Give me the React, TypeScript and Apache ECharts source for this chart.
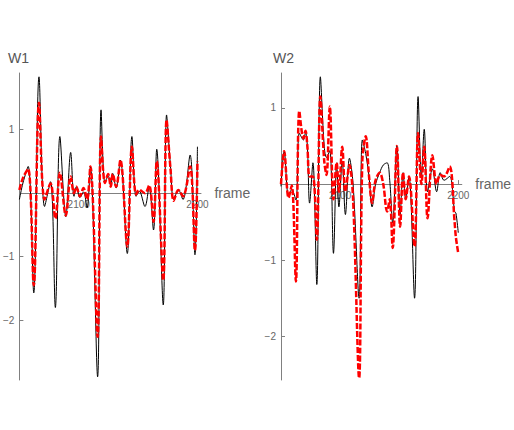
import React, { useEffect, useRef } from "react";
import * as echarts from "echarts";

const w1Frames = [2050, 2053, 2057.4, 2062.1, 2066.5, 2071.2, 2076.2, 2080.3, 2084.1, 2089.1, 2093.2, 2096, 2098, 2101, 2104, 2107, 2109.8, 2115.9, 2118.8, 2122.1, 2124.8, 2127, 2128.6, 2131.5, 2135.1, 2140.9, 2144.8, 2148.3, 2151, 2155.8, 2159.3, 2163, 2165.7, 2171.2, 2174, 2177.3, 2180, 2184, 2187.8, 2193.8, 2197.9, 2200];
const w1Black = [-0.1, 0.16, 0.42, -1.57, 1.83, -0.21, 0.18, -1.8, 0.89, -0.37, 0.64, -0.05, 0.1, -0.07, 0.02, -0.23, 0.42, -2.89, 1.31, 0.16, 0.27, 0.1, 0.31, 0.08, 0.52, -0.95, 0.89, -0.05, 0.03, -0.21, 0.1, -0.58, 0.69, -1.76, 1.23, 0.42, -0.1, 0.05, -0.1, 0.6, -0.97, 0.73];
const w1Red = [0.05, 0.24, 0.38, -1.45, 1.42, -0.1, 0.15, -0.4, 0.32, -0.35, 0.26, 0.0, 0.1, -0.05, 0.08, -0.1, 0.42, -2.26, 0.89, 0.16, 0.3, 0.1, 0.3, 0.1, 0.52, -0.84, 0.73, -0.02, 0.05, 0.0, 0.12, -0.45, 0.5, -1.37, 1.15, 0.38, -0.12, 0.05, -0.05, 0.42, -0.9, 0.5];

const w2Frames = [2050, 2052.7, 2056.4, 2059.1, 2062.6, 2065.5, 2069, 2070.7, 2072.3, 2074.2, 2077, 2080.3, 2083.3, 2086.6, 2088.5, 2091.3, 2094.4, 2097.1, 2099, 2101.8, 2104.5, 2107.9, 2111, 2116.1, 2118.8, 2121.7, 2124.5, 2127.1, 2130, 2133.5, 2136.5, 2139.8, 2142, 2144.5, 2148.1, 2150.8, 2153.3, 2155.5, 2158.3, 2163, 2166, 2168.8, 2171.2, 2174, 2178.1, 2181.7, 2184.7, 2188, 2192.7, 2196.9, 2198, 2200];
const w2Black = [-0.03, 0.43, -0.16, -0.07, -0.21, 0.67, 0.58, 0.68, 0.5, -0.25, 0.28, -1.32, 1.41, 0.49, 0.35, 0.44, -0.91, 0.28, -0.3, 0.3, -0.4, 0.34, 0.0, -1.5, 0.58, 0.4, 0.1, -0.3, 0.0, 0.15, 0.25, 0.28, 0.05, -0.51, 0.5, -0.4, 0.15, -0.2, 0.1, -1.5, 1.15, 0.1, 0.72, -0.1, 0.2, -0.1, 0.15, 0.05, 0.1, -0.36, -0.38, -0.64];
const w2Red = [0.0, 0.43, -0.18, -0.02, -1.28, 0.96, 0.6, 0.7, 0.5, 0.1, 0.1, -0.73, 1.15, 0.3, 0.12, 1.02, -0.2, 0.28, -0.1, 0.49, -0.1, 0.25, -0.2, -2.55, 0.3, 0.63, 0.1, -0.25, 0.05, 0.15, 0.0, -0.36, -0.2, -0.84, 0.5, -0.56, 0.15, -0.2, 0.1, -0.82, 0.67, 0.0, 0.49, -0.45, 0.38, 0.0, 0.12, 0.1, 0.23, -0.5, -0.7, -0.91];

const titles = ["W1", "W2"];
const xTicks = [2100, 2200];
const yTicks = [-2, -1, 1];
const xRange = [2050, 2203];
const yRanges = [[-2.94, 1.89], [-2.575, 1.46]];

const pairs = (xs: number[], ys: number[]) => xs.map((x, i) => [x, ys[i]]);

export default function App() {
  const ref = useRef<HTMLDivElement>(null);
  useEffect(() => {
    if (!ref.current) return;
    const chart = echarts.init(ref.current, null, { renderer: "svg" });
    const font = "Liberation Sans, Arial, sans-serif";
    const axisColor = "#808080";
    const labelColor = "#666";
    const lefts = [16, 281];
    const gridTop = 73;
    const gridH = 307;
    const xAxes = lefts.map((_, i) => {
      const [lo, hi] = yRanges[i];
      const zeroFromBottom = (gridH * (0 - lo)) / (hi - lo);
      return {
        type: "value",
        gridIndex: i,
        min: xRange[0],
        max: xRange[1],
        position: "bottom",
        offset: -zeroFromBottom,
        name: "frame",
        nameLocation: "end",
        nameGap: 5,
        nameTextStyle: { fontSize: 14, color: labelColor, fontFamily: font, verticalAlign: "middle" },
        axisLine: { onZero: false, lineStyle: { color: axisColor, width: 1 } },
        axisTick: { show: true, inside: true, length: 4, customValues: xTicks, lineStyle: { color: axisColor } },
        axisLabel: {
          show: true,
          customValues: xTicks,
          fontSize: 10,
          color: labelColor,
          fontFamily: font,
          margin: 6,
          formatter: (v: number) => String(v),
        },
        splitLine: { show: false },
      };
    });
    const yAxes = lefts.map((_, i) => ({
      type: "value",
      gridIndex: i,
      min: yRanges[i][0],
      max: yRanges[i][1],
      axisLine: { show: true, onZero: false, lineStyle: { color: axisColor, width: 1 } },
      axisTick: { show: true, inside: true, length: 4, customValues: yTicks, lineStyle: { color: axisColor } },
      axisLabel: {
        show: true,
        customValues: yTicks,
        fontSize: 10,
        color: labelColor,
        fontFamily: font,
        margin: 5,
        formatter: (v: number) => String(v).replace("-", "\u2212"),
      },
      splitLine: { show: false },
    }));
    const data = [
      [w1Frames, w1Black, w1Red],
      [w2Frames, w2Black, w2Red],
    ];
    const series: any[] = [];
    data.forEach(([fr, bl, rd], i) => {
      series.push({
        type: "line",
        xAxisIndex: i,
        yAxisIndex: i,
        data: pairs(fr, bl),
        smooth: 0.35,
        showSymbol: false,
        lineStyle: { color: "#000", width: 1 },
        z: 2,
      });
      series.push({
        type: "line",
        xAxisIndex: i,
        yAxisIndex: i,
        data: pairs(fr, rd),
        smooth: 0.35,
        showSymbol: false,
        lineStyle: { color: "#ff0000", width: 2.5, type: [6, 2] },
        z: 3,
      });
    });
    chart.setOption({
      animation: false,
      backgroundColor: "#fff",
      title: titles.map((t, i) => ({
        text: t,
        left: [3, 268][i],
        top: 46,
        textStyle: { fontSize: 14, fontWeight: "normal", color: "#555", fontFamily: font },
      })),
      grid: lefts.map((l) => ({ left: l, top: gridTop, width: 185, height: gridH })),
      xAxis: xAxes,
      yAxis: yAxes,
      series,
    });
    return () => chart.dispose();
  }, []);
  return <div ref={ref} style={{ position: "fixed", left: 0, top: 0, width: 514, height: 430 }} />;
}
